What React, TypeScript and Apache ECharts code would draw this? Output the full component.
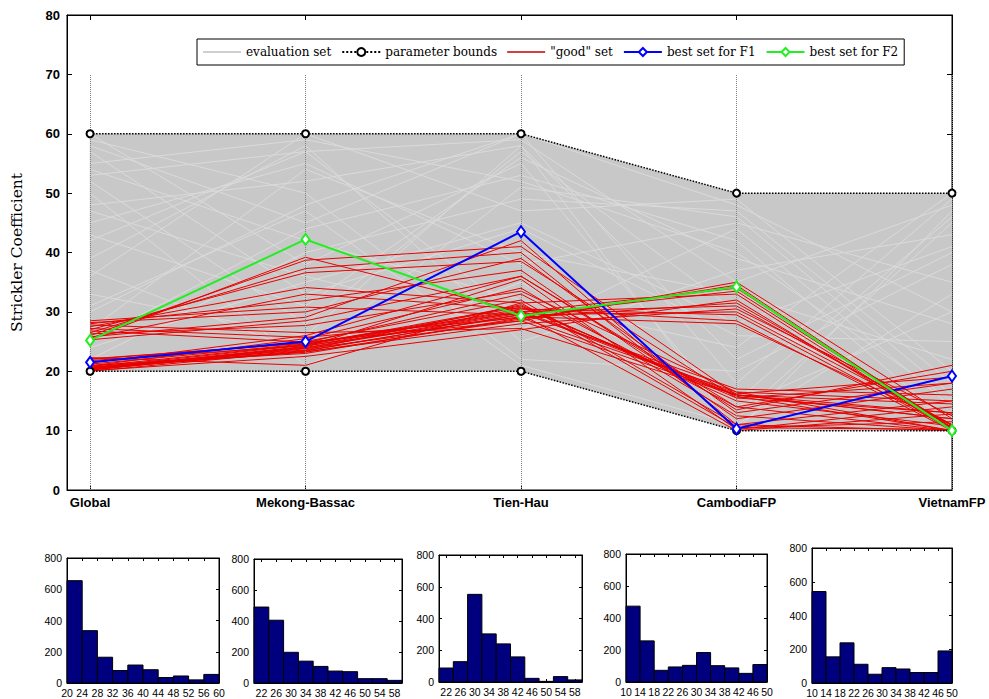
import React, { useEffect, useRef } from 'react';
import * as echarts from 'echarts';

const categories = ['Global', 'Mekong-Bassac', 'Tien-Hau', 'CambodiaFP', 'VietnamFP'];
const categoryPositions = [0, 1, 2, 3, 4];
const upperBounds = [60, 60, 60, 50, 50];
const lowerBounds = [20, 20, 20, 10, 10];
const guideTop = 70;

const evaluationLines = [
  [58, 45, 60, 48, 30], [55, 59, 52, 40, 15], [42, 57, 59, 35, 48], [48, 52, 58, 22, 40],
  [60, 38, 55, 12, 45], [36, 60, 47, 49, 20], [52, 28, 57, 30, 12], [45, 55, 38, 45, 35],
  [30, 48, 60, 18, 49], [57, 33, 44, 26, 25], [25, 44, 53, 42, 11], [39, 58, 25, 37, 43],
  [50, 21, 35, 14, 30], [22, 40, 49, 47, 18], [59, 50, 22, 20, 38], [33, 26, 58, 10, 47],
  [47, 36, 27, 44, 14], [27, 54, 40, 33, 22], [54, 42, 32, 24, 50], [43, 31, 56, 39, 28],
  [31, 47, 21, 11, 33], [24, 35, 45, 28, 41], [37, 23, 51, 46, 16], [53, 57, 29, 15, 46],
];

const goodLines = [
  [20.3, 23.5, 29.5, 33.5, 10.5], [20.5, 24.0, 30.0, 31.0, 11.0], [20.2, 23.8, 28.5, 16.0, 12.0],
  [20.8, 24.5, 31.0, 15.5, 18.0], [21.0, 23.0, 29.0, 16.5, 10.0], [20.4, 24.2, 30.5, 29.5, 10.2],
  [21.5, 25.0, 32.0, 11.0, 15.0], [22.0, 24.8, 33.0, 14.0, 20.0], [20.6, 23.3, 28.0, 30.5, 12.5],
  [20.1, 22.5, 27.0, 32.0, 10.0], [21.2, 24.6, 30.0, 16.0, 13.0], [22.3, 21.0, 31.5, 10.5, 11.5],
  [20.9, 25.5, 34.0, 12.5, 10.0], [20.3, 23.9, 29.8, 17.0, 16.0], [21.8, 24.3, 29.2, 28.0, 11.0],
  [20.7, 23.6, 31.2, 15.0, 10.8], [20.2, 24.1, 35.5, 10.2, 14.0], [21.4, 26.0, 36.0, 13.5, 21.0],
  [20.5, 23.2, 28.8, 34.5, 10.3], [22.1, 24.7, 30.2, 16.2, 19.0], [20.0, 23.4, 29.6, 10.0, 12.8],
  [20.6, 24.4, 30.8, 15.8, 10.0],
  [25.5, 39.2, 30.0, 34.0, 10.5], [26.0, 38.7, 41.0, 16.0, 12.0], [26.5, 37.3, 40.0, 11.0, 10.0],
  [27.0, 36.6, 38.5, 15.5, 13.0], [27.5, 34.1, 31.5, 33.0, 10.0], [28.0, 31.9, 37.0, 12.0, 17.0],
  [28.5, 30.8, 29.5, 30.0, 11.0], [25.8, 29.1, 42.0, 10.5, 10.2], [26.3, 27.7, 33.5, 16.5, 15.0],
  [27.2, 25.7, 29.0, 31.5, 10.8], [25.3, 28.5, 36.0, 14.0, 10.0], [26.8, 24.9, 28.5, 35.0, 12.0],
  [28.2, 30.0, 39.0, 13.0, 18.0], [25.6, 33.0, 30.5, 28.5, 10.0], [27.8, 26.5, 27.2, 16.0, 14.5],
];

const bestF1 = [21.5, 25.0, 43.5, 10.3, 19.2];
const bestF2 = [25.2, 42.2, 29.3, 34.2, 10.0];

const hist1Edges = [20, 24, 28, 32, 36, 40, 44, 48, 52, 56, 60];
const hist1Counts = [655, 335, 165, 80, 115, 85, 35, 45, 20, 55];
const hist1Ticks = [20, 24, 28, 32, 36, 40, 44, 48, 52, 56, 60];

const hist2Edges = [20, 24, 28, 32, 36, 40, 44, 48, 52, 56, 60];
const hist2Counts = [490, 405, 198, 141, 107, 77, 73, 28, 28, 17];
const hist2Ticks = [22, 26, 30, 34, 38, 42, 46, 50, 54, 58];

const hist3Edges = [20, 24, 28, 32, 36, 40, 44, 48, 52, 56, 60];
const hist3Counts = [88, 128, 552, 303, 240, 158, 23, 4, 34, 13];
const hist3Ticks = [22, 26, 30, 34, 38, 42, 46, 50, 54, 58];

const hist4Edges = [10, 14, 18, 22, 26, 30, 34, 38, 42, 46, 50];
const hist4Counts = [474, 257, 73, 94, 104, 184, 102, 88, 54, 109];
const hist4Ticks = [10, 14, 18, 22, 26, 30, 34, 38, 42, 46, 50];

const hist5Edges = [10, 14, 18, 22, 26, 30, 34, 38, 42, 46, 50];
const hist5Counts = [542, 155, 238, 111, 52, 91, 83, 62, 62, 190];
const hist5Ticks = [10, 14, 18, 22, 26, 30, 34, 38, 42, 46, 50];

const histYTicks = [0, 200, 400, 600, 800];

const histograms = [
  { edges: hist1Edges, counts: hist1Counts, ticks: hist1Ticks, box: { left: 67, top: 558, width: 152, height: 125 } },
  { edges: hist2Edges, counts: hist2Counts, ticks: hist2Ticks, box: { left: 254, top: 559, width: 148, height: 124 } },
  { edges: hist3Edges, counts: hist3Counts, ticks: hist3Ticks, box: { left: 439, top: 555, width: 143, height: 127 } },
  { edges: hist4Edges, counts: hist4Counts, ticks: hist4Ticks, box: { left: 626, top: 554, width: 141, height: 128 } },
  { edges: hist5Edges, counts: hist5Counts, ticks: hist5Ticks, box: { left: 812, top: 548, width: 140, height: 135 } },
];

const toXY = (vals: number[]) => vals.map((v, i) => [categoryPositions[i], v]);

const GRAY = '#c8c8c8';
const GRAY_LINE = '#dadada';
const RED = '#e80000';
const lineIcon = 'path://M0,0h36v1.2h-36z';

export default function App() {
  const ref = useRef<HTMLDivElement>(null);
  useEffect(() => {
    if (!ref.current) return;
    const chart = echarts.init(ref.current, null, { renderer: 'svg' });
    const sans = 'Liberation Sans';
    const serif = 'DejaVu Serif';

    const axisLine = { onZero: false, lineStyle: { color: '#000' } };
    const xMin = -0.107;
    const xMax = 4;

    const grids: any[] = [
      { left: 67, top: 15, width: 885, height: 475, show: true, borderColor: '#000', borderWidth: 1 },
    ];
    const xAxes: any[] = [
      {
        gridIndex: 0, type: 'value', min: xMin, max: xMax, position: 'bottom', axisLine,
        axisTick: { inside: true, length: 5, customValues: categoryPositions, lineStyle: { color: '#000' } },
        axisLabel: {
          customValues: categoryPositions, formatter: (v: number) => categories[Math.round(v)] ?? '',
          color: '#000', fontFamily: sans, fontWeight: 'bold', fontSize: 13, margin: 6,
        },
        splitLine: { show: false },
      },
      {
        gridIndex: 0, type: 'value', min: xMin, max: xMax, position: 'top', axisLine,
        axisTick: { inside: true, length: 5, customValues: categoryPositions, lineStyle: { color: '#000' } },
        axisLabel: { show: false }, splitLine: { show: false },
      },
    ];
    const yAxes: any[] = [
      {
        gridIndex: 0, type: 'value', min: 0, max: 80, interval: 10, position: 'left', axisLine,
        name: 'Strickler Coefficient', nameLocation: 'middle', nameGap: 42, nameRotate: 90,
        nameTextStyle: { fontFamily: serif, fontSize: 15.5, color: '#000' },
        axisTick: { inside: true, length: 5, lineStyle: { color: '#000' } },
        axisLabel: { color: '#000', fontFamily: sans, fontWeight: 'bold', fontSize: 13, margin: 7 },
        splitLine: { show: false },
      },
      {
        gridIndex: 0, type: 'value', min: 0, max: 80, interval: 10, position: 'right', axisLine,
        axisTick: { inside: true, length: 5, lineStyle: { color: '#000' } },
        axisLabel: { show: false }, splitLine: { show: false },
      },
    ];

    const series: any[] = [];

    // evaluation-set envelope, one quadrilateral per gap between parallel axes
    series.push({
      type: 'custom', xAxisIndex: 0, yAxisIndex: 0, silent: true, z: 1,
      data: categoryPositions.slice(0, -1).map((p, i) => [
        p, lowerBounds[i], upperBounds[i], categoryPositions[i + 1], lowerBounds[i + 1], upperBounds[i + 1],
      ]),
      encode: { x: [0, 3], y: [1, 2, 4, 5] },
      renderItem: (params: any, api: any) => {
        const a = api.coord([api.value(0), api.value(1)]);
        const b = api.coord([api.value(0), api.value(2)]);
        const c = api.coord([api.value(3), api.value(5)]);
        const d = api.coord([api.value(3), api.value(4)]);
        return {
          type: 'polygon',
          shape: { points: [a, b, c, d] },
          style: { fill: GRAY, stroke: GRAY, lineWidth: 0.5 },
        };
      },
    });

    evaluationLines.forEach((l) => {
      series.push({
        type: 'line', name: 'evaluation set', xAxisIndex: 0, yAxisIndex: 0, data: toXY(l),
        symbol: 'none', itemStyle: { color: GRAY_LINE }, lineStyle: { color: GRAY_LINE, width: 1 }, silent: true, z: 2,
      });
    });

    // vertical guide lines
    series.push({
      type: 'line', xAxisIndex: 0, yAxisIndex: 0, data: [], silent: true, z: 3,
      markLine: {
        silent: true, symbol: ['none', 'none'], label: { show: false },
        lineStyle: { type: 'dotted', color: '#808080', width: 1 },
        data: categoryPositions.map((p) => [{ coord: [p, 0] }, { coord: [p, guideTop] }]),
      },
    });

    goodLines.forEach((l) => {
      series.push({
        type: 'line', name: '"good" set', xAxisIndex: 0, yAxisIndex: 0, data: toXY(l),
        symbol: 'none', itemStyle: { color: RED }, lineStyle: { color: RED, width: 1 }, silent: true, z: 4,
      });
    });

    [upperBounds, lowerBounds].forEach((b) => {
      series.push({
        type: 'line', name: 'parameter bounds', xAxisIndex: 0, yAxisIndex: 0, data: toXY(b),
        symbol: 'emptyCircle', symbolSize: 7,
        itemStyle: { color: '#000', borderColor: '#000', borderWidth: 1.5 },
        lineStyle: { color: '#000', width: 1.5, type: 'dotted' }, silent: true, z: 5,
      });
    });

    series.push({
      type: 'line', name: 'best set for F1', xAxisIndex: 0, yAxisIndex: 0, data: toXY(bestF1),
      symbol: 'emptyDiamond', symbolSize: [8, 11],
      itemStyle: { color: '#0000ff', borderColor: '#0000ff', borderWidth: 2 },
      lineStyle: { color: '#0000ff', width: 2 }, silent: true, z: 6,
    });
    series.push({
      type: 'line', name: 'best set for F2', xAxisIndex: 0, yAxisIndex: 0, data: toXY(bestF2),
      symbol: 'emptyDiamond', symbolSize: [8, 11],
      itemStyle: { color: '#22ee22', borderColor: '#22ee22', borderWidth: 2 },
      lineStyle: { color: '#22ee22', width: 2 }, silent: true, z: 7,
    });

    histograms.forEach((h, k) => {
      const g = k + 1;
      grids.push({ ...h.box, show: true, borderColor: '#000', borderWidth: 1 });
      const lo = h.edges[0];
      const hi = h.edges[h.edges.length - 1];
      xAxes.push({
        gridIndex: g, type: 'value', min: lo, max: hi, position: 'bottom', axisLine,
        axisTick: { inside: true, length: 3, customValues: h.ticks, lineStyle: { color: '#000' } },
        axisLabel: { customValues: h.ticks, color: '#000', fontFamily: sans, fontSize: 10.5, margin: 4 },
        splitLine: { show: false },
      });
      xAxes.push({
        gridIndex: g, type: 'value', min: lo, max: hi, position: 'top', axisLine,
        axisTick: { inside: true, length: 3, customValues: h.ticks, lineStyle: { color: '#000' } },
        axisLabel: { show: false }, splitLine: { show: false },
      });
      yAxes.push({
        gridIndex: g, type: 'value', min: 0, max: 800, position: 'left', axisLine,
        axisTick: { inside: true, length: 3, customValues: histYTicks, lineStyle: { color: '#000' } },
        axisLabel: { customValues: histYTicks, color: '#000', fontFamily: sans, fontSize: 10.5, margin: 5 },
        splitLine: { show: false },
      });
      yAxes.push({
        gridIndex: g, type: 'value', min: 0, max: 800, position: 'right', axisLine,
        axisTick: { inside: true, length: 3, customValues: histYTicks, lineStyle: { color: '#000' } },
        axisLabel: { show: false }, splitLine: { show: false },
      });
      series.push({
        type: 'custom', xAxisIndex: 2 * g, yAxisIndex: 2 * g, silent: true,
        data: h.counts.map((c, i) => [h.edges[i], h.edges[i + 1], c]),
        encode: { x: [0, 1], y: 2 },
        renderItem: (params: any, api: any) => {
          const p0 = api.coord([api.value(0), api.value(2)]);
          const p1 = api.coord([api.value(1), 0]);
          return {
            type: 'rect',
            shape: { x: p0[0], y: p0[1], width: p1[0] - p0[0], height: p1[1] - p0[1] },
            style: { fill: '#00007f', stroke: '#000', lineWidth: 1 },
          };
        },
      });
    });

    chart.setOption({
      animation: false,
      backgroundColor: '#fff',
      legend: {
        left: 197, top: 39, orient: 'horizontal',
        data: [
          { name: 'evaluation set', icon: lineIcon, itemStyle: { color: '#c0c0c0' } },
          { name: 'parameter bounds' },
          { name: '"good" set', icon: lineIcon, itemStyle: { color: '#c00000' } },
          { name: 'best set for F1' },
          { name: 'best set for F2' },
        ],
        borderColor: '#000', borderWidth: 1, backgroundColor: '#fff',
        padding: [7, 6], itemGap: 10, itemWidth: 38, itemHeight: 10,
        textStyle: { fontFamily: serif, fontSize: 12, color: '#000' },
        selectedMode: false,
      },
      grid: grids,
      xAxis: xAxes,
      yAxis: yAxes,
      series,
    });
    return () => chart.dispose();
  }, []);
  return <div ref={ref} style={{ position: 'fixed', left: 0, top: 0, width: 989, height: 699 }} />;
}
